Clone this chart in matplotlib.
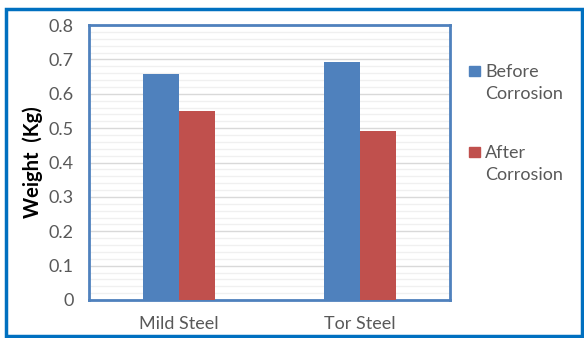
import matplotlib.pyplot as plt
from matplotlib.patches import Rectangle
from matplotlib.ticker import MultipleLocator
import numpy as np

plt.rcParams['font.family'] = ['Lato', 'DejaVu Sans']

categories = ["Mild Steel", "Tor Steel"]
before = [0.658, 0.692]
after = [0.549, 0.493]
series_labels = ["Before\nCorrosion", "After\nCorrosion"]

blue = "#4F81BD"
red = "#C0504D"
grey_txt = "#595959"

fig = plt.figure(figsize=(5.84, 3.38), dpi=100)
ax = fig.add_axes([89 / 584, 38 / 338, 361 / 584, 275 / 338])

x = np.arange(len(categories))
w = 0.2
ax.bar(x - w / 2, before, w, color=blue, zorder=3)
ax.bar(x + w / 2, after, w, color=red, zorder=3)

ax.set_xlim(-0.5, 1.5)
ax.set_ylim(0, 0.8)
ax.yaxis.set_minor_locator(MultipleLocator(0.02))
ax.set_yticks(np.arange(0, 0.81, 0.1))
ax.set_yticklabels(["0"] + [f"{v:.1f}" for v in np.arange(0.1, 0.81, 0.1)])
ax.set_xticks(x)
ax.set_xticklabels(categories)
ax.grid(axis='y', which='major', color="#D9D9D9", lw=1, zorder=0)
ax.grid(axis='y', which='minor', color="#F0F0F0", lw=1, zorder=0)
ax.tick_params(which='both', length=0, labelsize=13, labelcolor=grey_txt)
ax.tick_params(axis='y', pad=11)
ax.tick_params(axis='x', pad=11.5)
for s in ax.spines.values():
    s.set_color(blue)
    s.set_linewidth(2)

ax.set_ylabel("Weight  (Kg)", fontsize=14.5, fontweight='bold', labelpad=4)

# legend, drawn by hand so the square sits by the first line
leg_colors = [blue, red]
leg_top = [66, 147]
for lab, col, top in zip(series_labels, leg_colors, leg_top):
    fig.patches.append(Rectangle((469 / 584, 1 - (top + 10) / 338), 11 / 584, 10 / 338,
                                 transform=fig.transFigure, color=col))
    fig.text(485 / 584, 1 - (top - 2) / 338, lab, fontsize=13, color=grey_txt,
             ha='left', va='top', linespacing=1.45)

fig.patches.append(Rectangle((6 / 584, 2 / 338), 576 / 584, 327 / 338,
                             transform=fig.transFigure, fill=False,
                             edgecolor="#0070C0", lw=2.5))

fig.savefig("out.png", dpi=100)
